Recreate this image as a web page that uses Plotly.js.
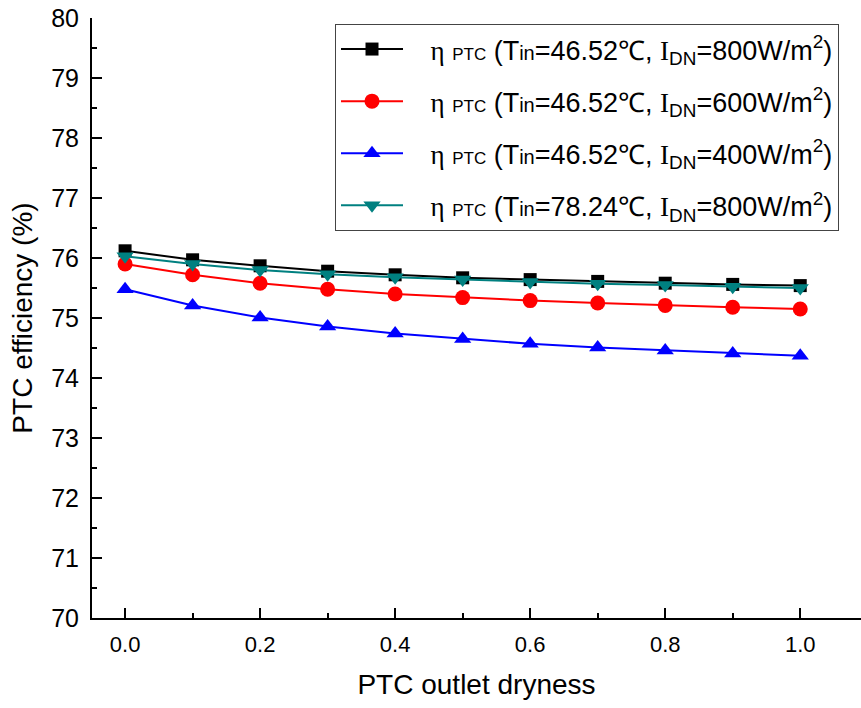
<!DOCTYPE html>
<html>
<head>
<meta charset="utf-8">
<script src="https://cdn.plot.ly/plotly-3.0.1.min.js"></script>
<style>html,body{margin:0;padding:0;background:#fff;}#chart{width:861px;height:708px;}</style>
</head>
<body>
<div id="chart"></div>
<script>
const dryness = [0.0, 0.1, 0.2, 0.3, 0.4, 0.5, 0.6, 0.7, 0.8, 0.9, 1.0];
const eff800 = [76.12, 75.97, 75.87, 75.78, 75.72, 75.67, 75.64, 75.61, 75.58, 75.56, 75.54];
const eff600 = [75.90, 75.72, 75.58, 75.48, 75.40, 75.34, 75.29, 75.25, 75.21, 75.18, 75.15];
const eff400 = [75.48, 75.21, 75.01, 74.86, 74.74, 74.65, 74.57, 74.51, 74.46, 74.41, 74.37];
const eff800hot = [76.03, 75.90, 75.80, 75.73, 75.68, 75.64, 75.60, 75.57, 75.55, 75.52, 75.50];
const tinValues = ["46.52", "46.52", "46.52", "78.24"];
const idnValues = ["800", "600", "400", "800"];
const seriesNames = tinValues.map((t, i) =>
  "&nbsp;&nbsp;&nbsp;<span style='font-family:Liberation Serif'>η</span> <span style='font-size:17px'>PTC</span> (T<span style='font-size:20px'>in</span>=" + t +
  "℃, <span style='font-family:Liberation Serif'>I</span><sub>DN</sub>=" + idnValues[i] + "W/m<sup>2</sup>)"
);
const colors = ["#000000", "#ff0000", "#0000ff", "#008080"];
const symbols = ["square", "circle", "triangle-up", "triangle-down"];
const ys = [eff800, eff600, eff400, eff800hot];

const traces = ys.map((y, i) => ({
  x: dryness, y: y, name: seriesNames[i], type: 'scatter', mode: 'lines+markers',
  legendgroup: 'g' + i,
  line: {color: colors[i], width: 2},
  marker: {symbol: symbols[i], color: colors[i], size: i === 0 ? 13 : 15}
}));

const layout = {
  width: 861, height: 708,
  margin: {l: 92, r: 0, t: 18, b: 90},
  paper_bgcolor: '#fff', plot_bgcolor: '#fff',
  font: {family: 'Liberation Sans, Arial, sans-serif', color: '#000'},
  showlegend: true,
  legend: {
    x: 0.316, y: 0.99, xanchor: 'left', yanchor: 'top',
    bordercolor: '#444', borderwidth: 1, bgcolor: '#fff',
    font: {size: 27, color: '#000'}, tracegroupgap: 14,
    itemwidth: 62
  },
  xaxis: {
    range: [-0.049, 1.09], showgrid: false, zeroline: false,
    showline: true, linecolor: '#000', linewidth: 2, mirror: false,
    ticks: 'inside', ticklen: 10, tickwidth: 2, tickcolor: '#000',
    tickvals: [0, 0.2, 0.4, 0.6, 0.8, 1.0],
    ticktext: ['0.0', '0.2', '0.4', '0.6', '0.8', '1.0'],
    minor: {tickvals: [0.1, 0.3, 0.5, 0.7, 0.9], ticks: 'inside', ticklen: 5, tickwidth: 2, tickcolor: '#000'},
    tickfont: {size: 22, family: 'Liberation Sans, Arial, sans-serif', color: '#000'}, ticklabelstandoff: 6,
    title: {text: 'PTC outlet dryness', font: {size: 28}, standoff: 18}
  },
  yaxis: {
    range: [70, 80], showgrid: false, zeroline: false,
    showline: true, linecolor: '#000', linewidth: 2, mirror: false,
    ticks: 'inside', ticklen: 10, tickwidth: 2, tickcolor: '#000',
    tickvals: [70, 71, 72, 73, 74, 75, 76, 77, 78, 79, 80],
    minor: {tickvals: [70.5, 71.5, 72.5, 73.5, 74.5, 75.5, 76.5, 77.5, 78.5, 79.5], ticks: 'inside', ticklen: 5, tickwidth: 2, tickcolor: '#000'},
    tickfont: {size: 25, family: 'Liberation Sans, Arial, sans-serif', color: '#000'}, ticklabelstandoff: 6,
    title: {text: 'PTC efficiency (%)', font: {size: 28}, standoff: 10}
  }
};

Plotly.newPlot('chart', traces, layout, {displayModeBar: false, staticPlot: true});
</script>
</body>
</html>
